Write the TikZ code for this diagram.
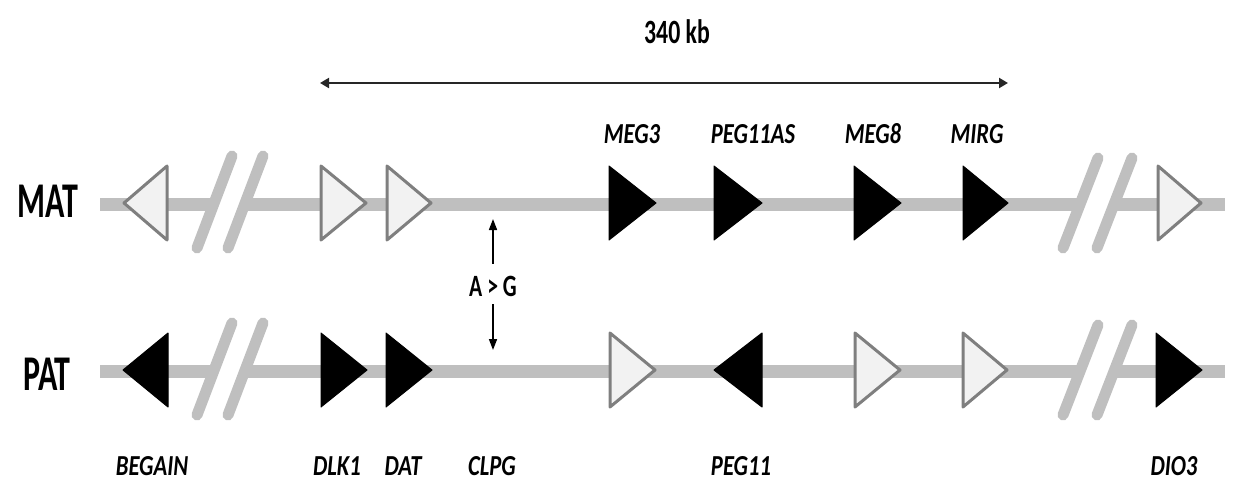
\documentclass[tikz,border=0pt]{standalone}
\usepackage{fontspec}
\setmainfont{Carlito}
\newfontfamily\genefont[FakeStretch=0.78]{Carlito}
\newfontfamily\rowfont[FakeStretch=0.64]{Carlito}
\newfontfamily\lblfont[FakeStretch=0.70]{Carlito}
\usetikzlibrary{arrows.meta}
\definecolor{chrom}{HTML}{BFBFBF}
\definecolor{openfill}{HTML}{F2F2F2}
\definecolor{openedge}{HTML}{7F7F7F}
\tikzset{
  chromline/.style={chrom, line width=13pt},
  breakmark/.style={chrom, line width=11pt, line cap=round},
  silent/.style={fill=openfill, draw=openedge, line width=3pt, line join=round},
  active/.style={fill=black, draw=black, line width=1pt, line join=round},
  gene/.style={font=\genefont\bfseries\itshape\fontsize{29}{30}\selectfont, inner sep=0pt},
  rowname/.style={font=\rowfont\bfseries\fontsize{50}{52}\selectfont, inner sep=0pt},
  note/.style={font=\lblfont\bfseries\fontsize{34}{36}\selectfont, inner sep=0pt},
  scalebar/.style={line width=2pt, draw=black!85, {Triangle[length=9pt,width=10pt]}-{Triangle[length=9pt,width=10pt]}},
  snp/.style={line width=1.6pt, -{Triangle[length=11pt,width=8pt]}},
}
% right-pointing gene triangle: base x, tip x, centre y
\newcommand{\rtri}[4]{\path[#1] (#2,#4-37) -- (#3,#4) -- (#2,#4+37) -- cycle;}
% left-pointing gene triangle: tip x, base x, centre y
\newcommand{\ltri}[4]{\path[#1] (#3,#4-37) -- (#2,#4) -- (#3,#4+37) -- cycle;}
\begin{document}
\begin{tikzpicture}[x=1pt, y=-1pt]
\useasboundingbox (0,0) rectangle (1233,485);

% scale bar
\node[note] (kb) at (677,32) {340 kb};
\coordinate (kbL) at (320,83);
\coordinate (kbR) at (1008,83);
\draw[scalebar] (kbL) -- (kbR);

% row names
\node[rowname] (mat) at (48,201) {MAT};
\node[rowname] (pat) at (47,374) {PAT};

% chromosome lines with breaks
\foreach \y in {204,371} {
  \draw[chromline] (100,\y) -- (213,\y);
  \draw[chromline] (245,\y) -- (1080,\y);
  \draw[chromline] (1114,\y) -- (1225,\y);
  \draw[breakmark] (197,\y+44) -- (232,\y-48);
  \draw[breakmark] (228,\y+44) -- (263,\y-48);
  \draw[breakmark] (1063,\y+44) -- (1098,\y-46);
  \draw[breakmark] (1097,\y+44) -- (1132,\y-46);
}

% maternal allele
\ltri{silent}{124}{167}{203}
\rtri{silent}{321}{366}{203}
\rtri{silent}{387}{431}{203}
\rtri{active}{609}{656}{203}
\rtri{active}{714}{762}{203}
\rtri{active}{854}{901}{203}
\rtri{active}{963}{1008}{203}
\rtri{silent}{1158}{1201}{203}

% paternal allele
\ltri{active}{123}{168}{370}
\rtri{active}{321}{367}{370}
\rtri{active}{386}{432}{370}
\rtri{silent}{610}{655}{370}
\ltri{active}{714}{762}{370}
\rtri{silent}{855}{900}{370}
\rtri{silent}{963}{1007}{370}
\rtri{active}{1156}{1202}{370}

% gene names above
\node[gene] (meg3)    at (632,134) {MEG3};
\node[gene] (peg11as) at (753,134) {PEG11AS};
\node[gene] (meg8)    at (873,134) {MEG8};
\node[gene] (mirg)    at (977,134) {MIRG};

% gene names below
\node[gene] (begain) at (152,466) {BEGAIN};
\node[gene] (dlk1)   at (337,466) {DLK1};
\node[gene] (dat)    at (403,466) {DAT};
\node[gene] (clpg)   at (492,466) {CLPG};
\node[gene] (peg11)  at (741,466) {PEG11};
\node[gene] (dio3)   at (1174,466) {DIO3};

% CLPG variant
\node[note, font=\lblfont\bfseries\fontsize{31}{33}\selectfont] (ag) at (493,286) {A > G};
\coordinate (agUp) at (493,219);
\coordinate (agDn) at (493,350);
\draw[snp] (ag.north) ++(0,-12) -- (agUp);
\draw[snp] (ag.south) ++(0,8) -- (agDn);
\end{tikzpicture}
\end{document}
